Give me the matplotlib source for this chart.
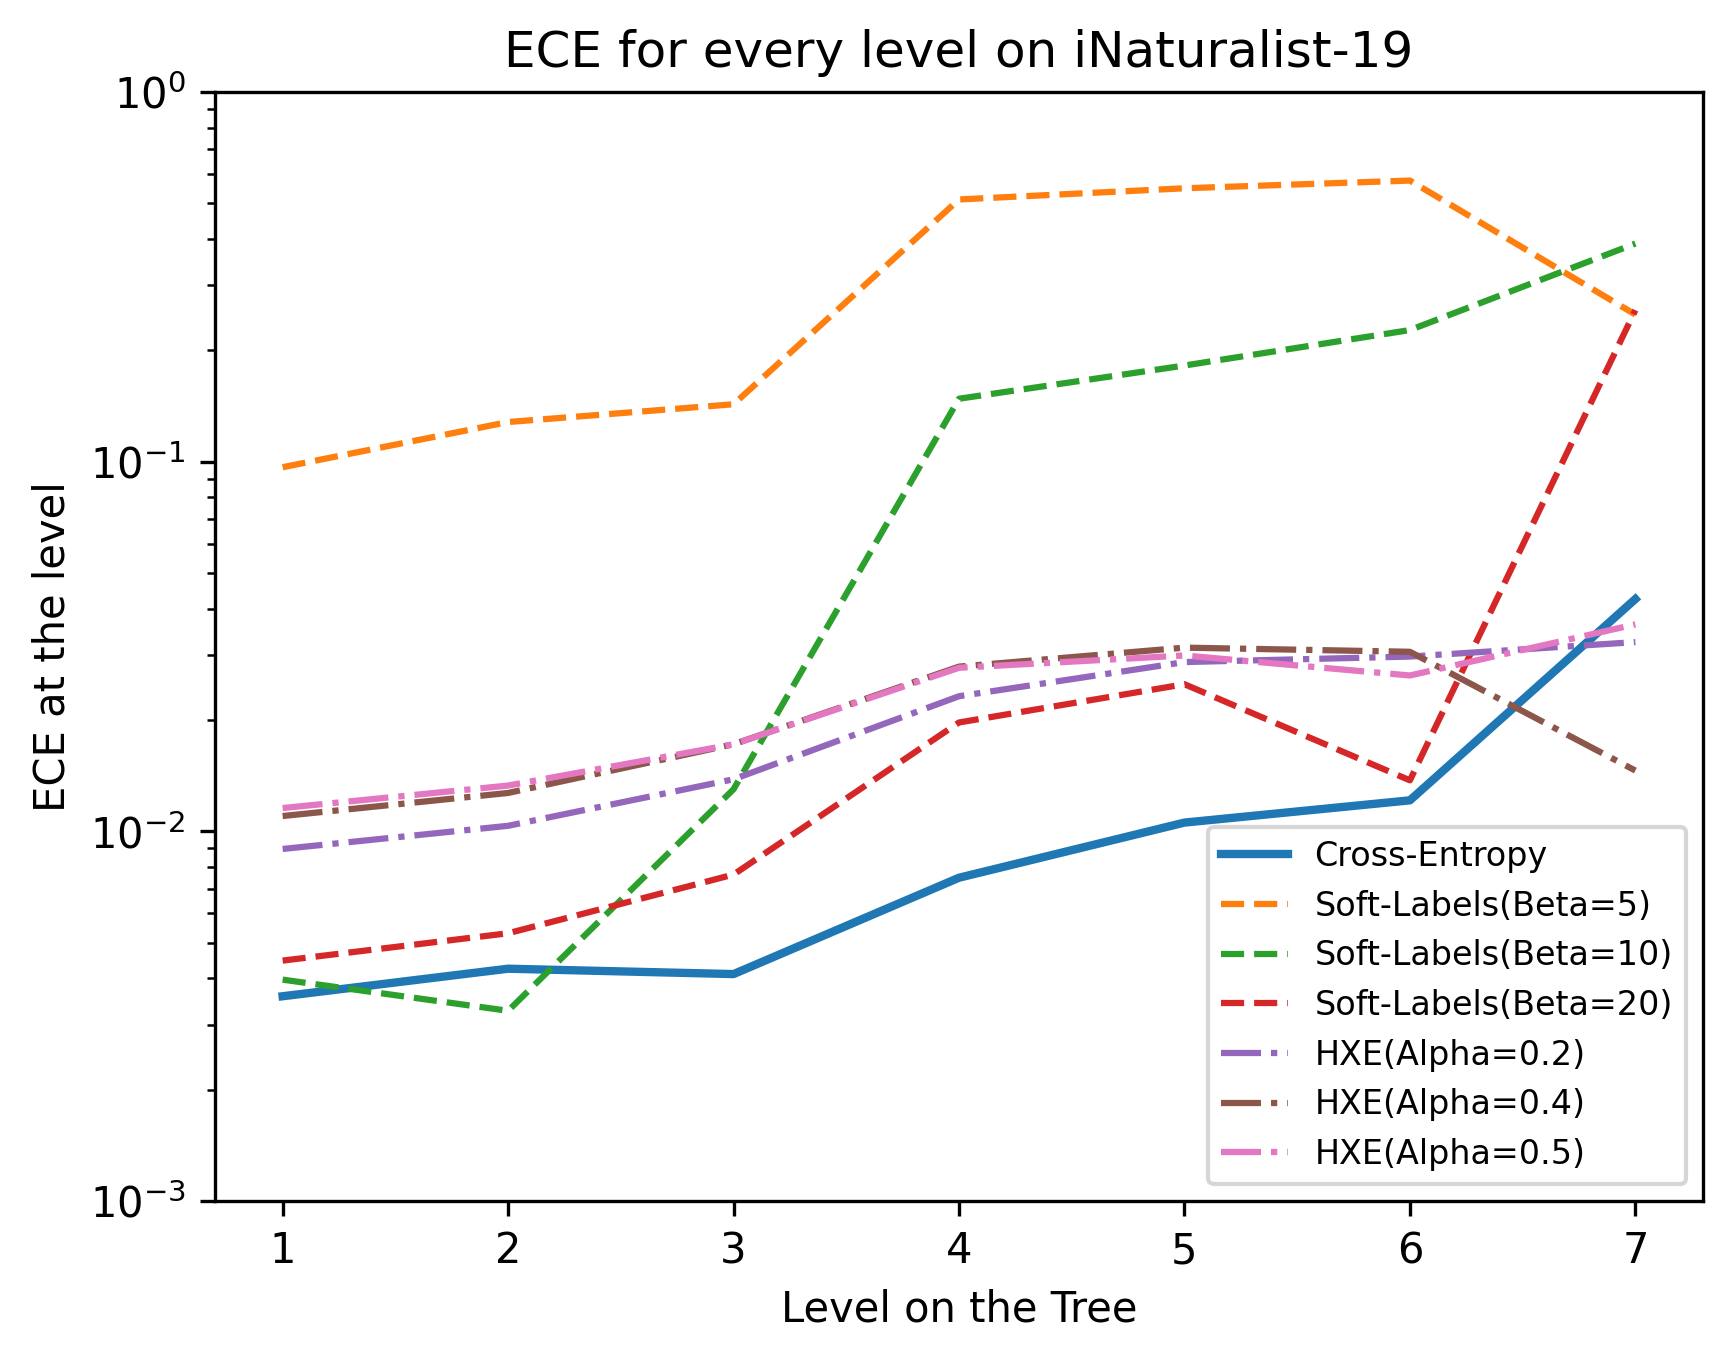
import numpy as np
import matplotlib
matplotlib.use("Agg")
import matplotlib.pyplot as plt

levels = [1, 2, 3, 4, 5, 6, 7]

cross_entropy = [0.00358, 0.00425, 0.00411, 0.00749, 0.01056, 0.01213, 0.0425]
soft_beta5 = [0.0966, 0.128, 0.143, 0.512, 0.549, 0.576, 0.250]
soft_beta10 = [0.00397, 0.00327, 0.0130, 0.148, 0.182, 0.227, 0.389]
soft_beta20 = [0.00447, 0.00530, 0.00764, 0.0197, 0.0250, 0.01374, 0.257]
hxe_02 = [0.00896, 0.01035, 0.01383, 0.0232, 0.0287, 0.0297, 0.0325]
hxe_04 = [0.0110, 0.0127, 0.0172, 0.0279, 0.0314, 0.0306, 0.0146]
hxe_05 = [0.01156, 0.0133, 0.0172, 0.0277, 0.0299, 0.0264, 0.0363]

W, H = 1731, 1361
fig = plt.figure(figsize=(W / 300, H / 300), dpi=300)
ax = fig.add_axes([215 / W, (H - 1201) / H, 1488 / W, 1109 / H])

ax.plot(levels, cross_entropy, '-', color='tab:blue', lw=2, label='Cross-Entropy')
ax.plot(levels, soft_beta5, '--', color='tab:orange', label='Soft-Labels(Beta=5)')
ax.plot(levels, soft_beta10, '--', color='tab:green', label='Soft-Labels(Beta=10)')
ax.plot(levels, soft_beta20, '--', color='tab:red', label='Soft-Labels(Beta=20)')
ax.plot(levels, hxe_02, '-.', color='tab:purple', label='HXE(Alpha=0.2)')
ax.plot(levels, hxe_04, '-.', color='tab:brown', label='HXE(Alpha=0.4)')
ax.plot(levels, hxe_05, '-.', color='tab:pink', label='HXE(Alpha=0.5)')

ax.set_yscale('log')
ax.set_ylim(1e-3, 1)
ax.set_title('ECE for every level on iNaturalist-19')
ax.set_xlabel('Level on the Tree')
ax.set_ylabel('ECE at the level')
ax.legend(loc='lower right', fontsize=8)

fig.savefig('out.png', dpi=300)
